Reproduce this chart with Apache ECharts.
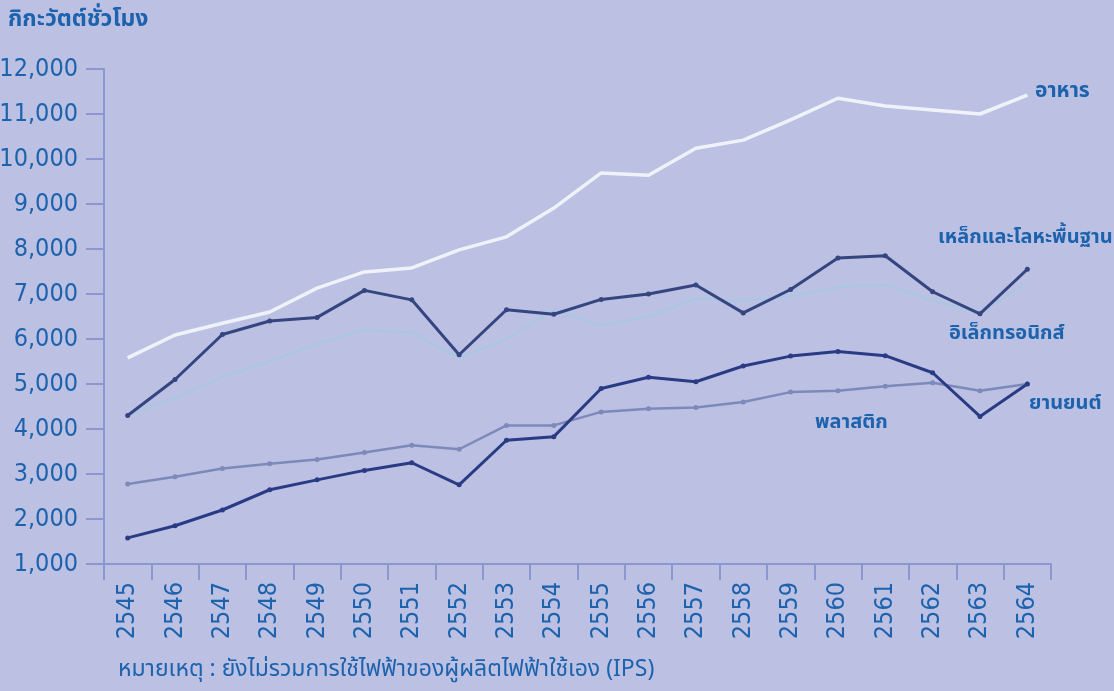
<!DOCTYPE html>
<html lang="th">
<head>
    <meta charset="UTF-8">
    <title>Electricity use by industry</title>
    <script src="https://cdn.jsdelivr.net/npm/echarts@6/dist/echarts.min.js"></script>
    <style type="text/css">
        html, body { margin:0; padding:0; background:#bcc1e3; }
        #main { width:1114px; height:691px; }
    </style>
</head>
<body>
<div id="main"></div>
<script type="application/javascript">
    // years (Buddhist era)
    var years = ['2545','2546','2547','2548','2549','2550','2551','2552','2553','2554',
                 '2555','2556','2557','2558','2559','2560','2561','2562','2563','2564'];

    // GWh
    var food = [5580,6090,6350,6600,7130,7490,7580,7980,8270,8910,
                9690,9640,10240,10420,10870,11350,11180,11090,11000,11420];
    var steel = [4300,5100,6100,6400,6480,7080,6870,5650,6650,6550,
                 6880,7000,7200,6580,7100,7800,7850,7050,6560,7550];
    var electronics = [4300,4700,5150,5500,5900,6200,6150,5580,6000,6650,
                       6300,6500,6900,6850,6950,7150,7200,6850,6580,7250];
    var auto = [1580,1850,2200,2650,2870,3080,3250,2760,3750,3830,
                4900,5150,5050,5400,5620,5720,5630,5250,4280,5000];
    var plastic = [2780,2940,3120,3230,3320,3480,3640,3550,4080,4080,
                   4380,4450,4480,4600,4820,4850,4950,5030,4850,5000];

    var blue = '#1d62ad';
    var axisCol = '#8b98cf';
    var thai = '"Noto Sans Thai","Noto Sans","DejaVu Sans",sans-serif';
    var narrow = '"Liberation Sans Narrow","DejaVu Sans Condensed",sans-serif';

    var myChart = echarts.init(document.getElementById('main'));

    function line(name, data, color, width, dots) {
        return {
            name: name,
            type: 'line',
            data: data,
            symbol: dots ? 'circle' : 'none',
            symbolSize: 5,
            showSymbol: dots,
            itemStyle: { color: color },
            lineStyle: { color: color, width: width },
            animation: false
        };
    }

    myChart.setOption({
        backgroundColor: '#bcc1e3',
        grid: { left:104, right:63, top:69, bottom:127, outerBoundsMode:'none' },
        xAxis: {
            type: 'category',
            data: years,
            boundaryGap: true,
            axisLine: { lineStyle: { color: axisCol, width: 2 } },
            axisTick: { show: true, length: 16, lineStyle: { color: axisCol, width: 2 } },
            axisLabel: {
                rotate: 90, color: blue, fontSize: 25, margin: 18,
                fontFamily: narrow
            }
        },
        yAxis: {
            type: 'value',
            min: 1000, max: 12000, interval: 1000,
            axisLine: { show: true, lineStyle: { color: axisCol, width: 2 } },
            axisTick: { show: true, length: 18, lineStyle: { color: axisCol, width: 2 } },
            splitLine: { show: false },
            axisLabel: {
                color: blue, fontSize: 25, margin: 26, fontFamily: narrow,
                formatter: function (v) { return v.toLocaleString('en-US'); }
            }
        },
        series: [
            line('พลาสติก', plastic, '#7d89bb', 2.5, true),
            line('อิเล็กทรอนิกส์', electronics, '#a7c7e2', 2, false),
            line('อาหาร', food, '#eef3fa', 3.5, false),
            line('เหล็กและโลหะพื้นฐาน', steel, '#34457f', 3, true),
            line('ยานยนต์', auto, '#2a3b85', 3, true)
        ],
        graphic: [
            { type:'text', left:8, top:10,
              style:{ text:'กิกะวัตต์ชั่วโมง', fill:blue, font:'bold 23px ' + thai } },
            { type:'text', left:1035, top:82,
              style:{ text:'อาหาร', fill:blue, font:'bold 21px ' + thai } },
            { type:'text', left:938, top:229,
              style:{ text:'เหล็กและโลหะพื้นฐาน', fill:blue, font:'bold 20px ' + thai } },
            { type:'text', left:949, top:325,
              style:{ text:'อิเล็กทรอนิกส์', fill:blue, font:'bold 20px ' + thai } },
            { type:'text', left:1029, top:395,
              style:{ text:'ยานยนต์', fill:blue, font:'bold 20px ' + thai } },
            { type:'text', left:815, top:414,
              style:{ text:'พลาสติก', fill:blue, font:'bold 20px ' + thai } },
            { type:'text', left:118, top:660,
              style:{ text:'หมายเหตุ : ยังไม่รวมการใช้ไฟฟ้าของผู้ผลิตไฟฟ้าใช้เอง (IPS)', fill:blue, font:'23px ' + thai } }
        ]
    });
</script>
</body>
</html>
